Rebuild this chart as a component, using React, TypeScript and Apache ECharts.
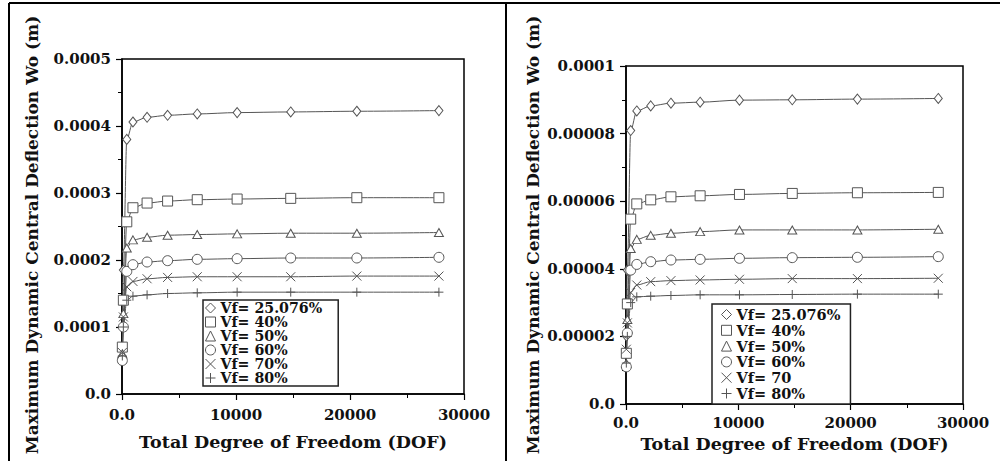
import React, { useEffect, useRef } from "react";
import * as echarts from "echarts";

const dof = [30, 120, 420, 960, 2200, 4000, 6600, 10100, 14800, 20600, 27800];

const leftNames = ["Vf= 25.076%", "Vf= 40%", "Vf= 50%", "Vf= 60%", "Vf= 70%", "Vf= 80%"];
const rightNames = ["Vf= 25.076%", "Vf= 40%", "Vf= 50%", "Vf= 60%", "Vf= 70", "Vf= 80%"];

const left25 = [0.0001, 0.000185, 0.00038, 0.000406, 0.000413, 0.000416, 0.000418, 0.00042, 0.000421, 0.000422, 0.000423];
const left40 = [0.00007, 0.00014, 0.000257, 0.000278, 0.000285, 0.000288, 0.00029, 0.000291, 0.000292, 0.000293, 0.000293];
const left50 = [0.00006, 0.00012, 0.000218, 0.00023, 0.000234, 0.000237, 0.000238, 0.000239, 0.00024, 0.00024, 0.000241];
const left60 = [0.00005, 0.0001, 0.000183, 0.000193, 0.000197, 0.000199, 0.000201, 0.000202, 0.000203, 0.000203, 0.000204];
const left70 = [0.000062, 0.000115, 0.00016, 0.000168, 0.000172, 0.000174, 0.000175, 0.000175, 0.000175, 0.000176, 0.000176];
const left80 = [0.0000567, 0.0001, 0.00014, 0.000146, 0.000148, 0.00015, 0.000151, 0.000152, 0.000152, 0.000152, 0.000152];

const right25 = [0.0000201, 0.0000396, 0.0000809, 0.0000867, 0.0000882, 0.000089, 0.0000893, 0.0000899, 0.00009, 0.0000902, 0.0000904];
const right40 = [0.000015, 0.0000296, 0.0000547, 0.0000592, 0.0000604, 0.0000613, 0.0000616, 0.000062, 0.0000623, 0.0000625, 0.0000626];
const right50 = [0.000012, 0.000025, 0.000046, 0.0000487, 0.0000499, 0.0000505, 0.000051, 0.0000515, 0.0000515, 0.0000515, 0.0000517];
const right60 = [0.000011, 0.000021, 0.0000396, 0.0000413, 0.0000421, 0.0000426, 0.0000428, 0.0000431, 0.0000433, 0.0000434, 0.0000436];
const right70 = [0.0000162, 0.000024, 0.000033, 0.0000352, 0.0000362, 0.0000365, 0.0000367, 0.0000369, 0.0000371, 0.0000371, 0.0000372];
const right80 = [0.0000121, 0.00002, 0.00003, 0.0000317, 0.0000319, 0.0000321, 0.0000323, 0.0000323, 0.0000324, 0.0000325, 0.0000325];

const symbols = [
  "diamond",
  "rect",
  "triangle",
  "circle",
  "path://M0,0L10,10M10,0L0,10",
  "path://M5,0L5,10M0,5L10,5",
];
const symbolSizes: any[] = [[8, 10], 10, [9, 8], 10, 9, 9];

const FONT = "DejaVu Serif";
const INK = "#111";
const MARK = "#555";

function makeSeries(names: string[], values: number[][], idx: number) {
  return values.map((vals, i) => ({
    type: "line",
    name: names[i],
    xAxisIndex: idx,
    yAxisIndex: idx,
    data: dof.map((x, j) => [x, vals[j]]),
    symbol: symbols[i],
    symbolSize: symbolSizes[i],
    showAllSymbol: true,
    smooth: 0.3,
    smoothMonotone: "x",
    lineStyle: { color: MARK, width: 1 },
    itemStyle: { color: "#fff", borderColor: MARK, borderWidth: 1 },
    emphasis: { disabled: true },
  }));
}

function fmt(decimals: number) {
  return (v: number) => (v === 0 ? "0.0" : String(parseFloat(v.toFixed(decimals))));
}

export default function App() {
  const ref = useRef<HTMLDivElement>(null);
  useEffect(() => {
    if (!ref.current) return;
    const chart = echarts.init(ref.current, undefined, { renderer: "svg" });
    const labelStyle = { fontFamily: FONT, fontWeight: 700, fontSize: 15, color: INK };
    const nameStyle = { fontFamily: FONT, fontWeight: 700, fontSize: 17, color: INK };
    const axisLine = { show: true, lineStyle: { color: "#000", width: 1.5 } };
    const xAxisBase = (gap: number, margin: number) => ({
      type: "value",
      min: 0,
      max: 30000,
      interval: 10000,
      name: "Total Degree of Freedom (DOF)",
      nameLocation: "middle",
      nameGap: gap,
      nameTextStyle: { ...nameStyle, fontSize: 17.5 },
      axisLine,
      axisTick: { show: true, length: 6, lineStyle: { color: "#000", width: 1.2 } },
      minorTick: { show: true, splitNumber: 2, length: 4, lineStyle: { color: "#000", width: 1 } },
      splitLine: { show: false },
      axisLabel: { ...labelStyle, margin, formatter: (v: number) => (v === 0 ? "0.0" : String(v)) },
    });
    const yAxisBase = (max: number, interval: number, dec: number, gap: number, pad: number[]) => ({
      type: "value",
      min: 0,
      max,
      interval,
      name: "Maximum Dynamic Central Deflection Wo (m)",
      nameLocation: "middle",
      nameRotate: 90,
      nameGap: gap,
      nameTextStyle: { ...nameStyle, padding: pad },
      axisLine,
      axisTick: { show: true, length: 6, lineStyle: { color: "#000", width: 1.2 } },
      minorTick: { show: true, splitNumber: 2, length: 4, lineStyle: { color: "#000", width: 1 } },
      splitLine: { show: false },
      axisLabel: { ...labelStyle, margin: 11, formatter: fmt(dec) },
    });
    const legendBase = {
      orient: "vertical",
      itemWidth: 10,
      itemHeight: 10,
      backgroundColor: "#fff",
      borderColor: "#222",
      borderWidth: 1.5,
      borderRadius: 0,
      selectedMode: false,
      itemStyle: { color: "#fff", borderColor: MARK, borderWidth: 1 },
    };
    chart.setOption({
      animation: false,
      backgroundColor: "#fff",
      grid: [
        { left: 122, top: 59, width: 342, height: 335, show: true, borderColor: "#000", borderWidth: 1.5, backgroundColor: "transparent", outerBoundsMode: "none", containLabel: false },
        { left: 626, top: 66, width: 337, height: 338, show: true, borderColor: "#000", borderWidth: 1.5, backgroundColor: "transparent", outerBoundsMode: "none", containLabel: false },
      ],
      xAxis: [
        { ...xAxisBase(39, 13), gridIndex: 0 },
        { ...xAxisBase(29, 11), gridIndex: 1 },
      ],
      yAxis: [
        { ...yAxisBase(0.0005, 0.0001, 4, 82, [0, 17, 0, 0]), gridIndex: 0 },
        { ...yAxisBase(0.0001, 0.00002, 5, 85, [0, 0, 0, 0]), gridIndex: 1 },
      ],
      legend: [
        {
          ...legendBase,
          left: 203,
          top: 300,
          padding: [1, 16, 1, 2],
          itemGap: 0,
          textStyle: { fontFamily: FONT, fontWeight: 700, fontSize: 14.2, color: INK },
          data: leftNames.map((n, i) => ({ name: n, icon: symbols[i] })),
        },
        {
          ...legendBase,
          left: 712,
          top: 304,
          padding: [3, 10, 3, 9],
          itemGap: 0.8,
          textStyle: { fontFamily: FONT, fontWeight: 700, fontSize: 14.5, color: INK },
          data: rightNames.map((n, i) => ({ name: n, icon: symbols[i] })),
        },
      ],
      graphic: [
        { type: "line", shape: { x1: 9, y1: 3, x2: 1000, y2: 3 }, style: { stroke: "#000", lineWidth: 2 } },
        { type: "line", shape: { x1: 9, y1: 3, x2: 9, y2: 461 }, style: { stroke: "#000", lineWidth: 2 } },
        { type: "line", shape: { x1: 506, y1: 3, x2: 506, y2: 461 }, style: { stroke: "#000", lineWidth: 2 } },
      ],
      series: [
        ...makeSeries(leftNames, [left25, left40, left50, left60, left70, left80], 0),
        ...makeSeries(rightNames, [right25, right40, right50, right60, right70, right80], 1),
      ],
    } as any);
    return () => chart.dispose();
  }, []);
  return (
    <div
      ref={ref}
      style={{ position: "absolute", left: 0, top: 0, width: 1000, height: 461 }}
    />
  );
}
